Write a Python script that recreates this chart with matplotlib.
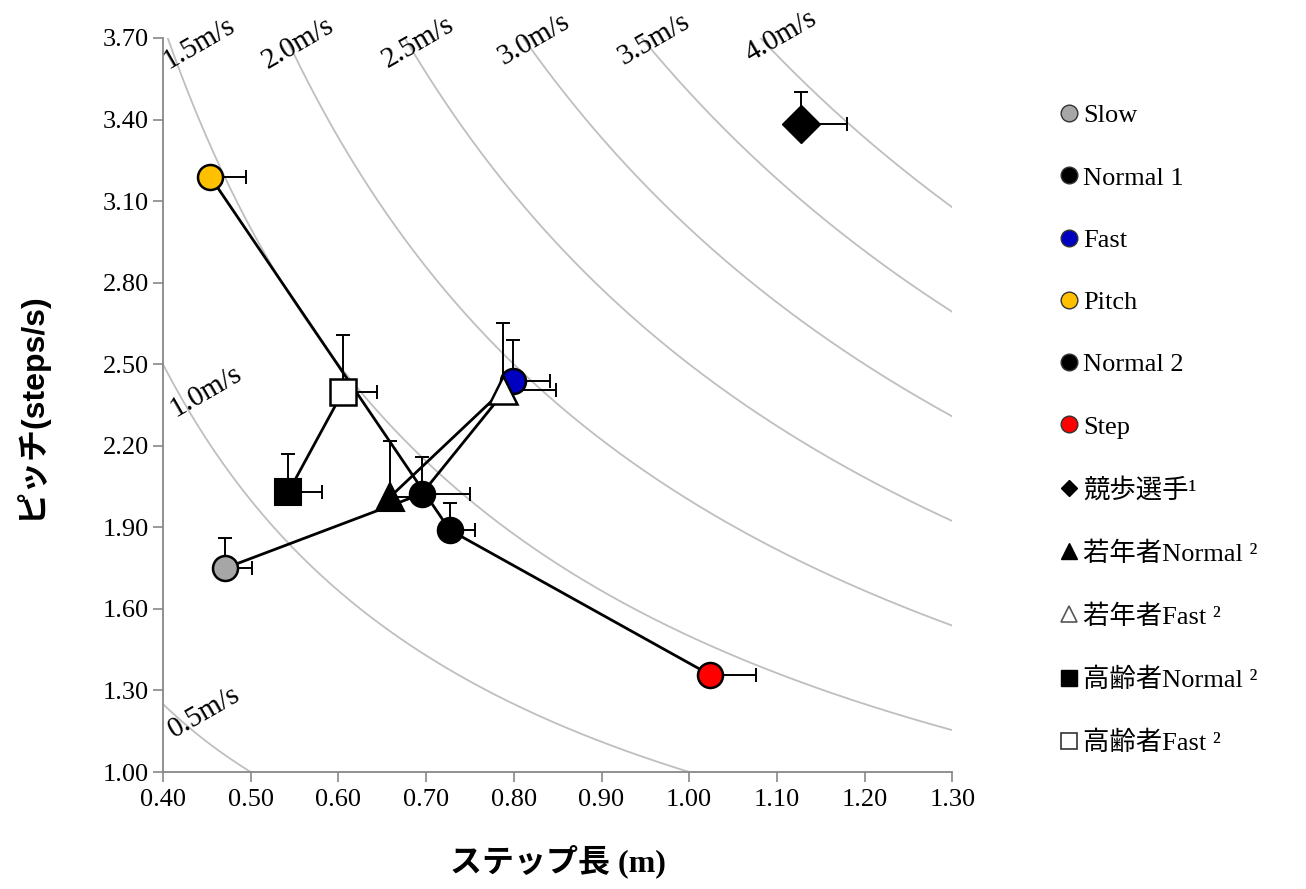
import numpy as np
import matplotlib
matplotlib.use("Agg")
import matplotlib.pyplot as plt
from matplotlib.lines import Line2D

plt.rcParams['font.family'] = ['Liberation Serif', 'Noto Sans CJK JP']

# iso-speed curves (m/s): pitch = speed / step length
speeds = [0.5, 1.0, 1.5, 2.0, 2.5, 3.0, 3.5, 4.0]
speed_labels = ['0.5m/s', '1.0m/s', '1.5m/s', '2.0m/s', '2.5m/s', '3.0m/s', '3.5m/s', '4.0m/s']
label_x = [0.412, 0.414, 0.406, 0.519, 0.656, 0.788, 0.925, 1.070]
label_y = [1.125, 2.306, 3.585, 3.585, 3.590, 3.600, 3.600, 3.610]

# walking conditions (circles)
conditions = ['Slow', 'Normal 1', 'Fast', 'Pitch', 'Normal 2', 'Step']
cond_colors = ['#A6A6A6', '#000000', '#0000C0', '#FFC000', '#000000', '#FF0000']
step_len = [0.471, 0.695, 0.799, 0.454, 0.727, 1.024]
pitch = [1.750, 2.023, 2.438, 3.189, 1.890, 1.357]
step_err = [0.031, 0.055, 0.042, 0.041, 0.029, 0.052]
pitch_err = [0.110, 0.136, 0.151, 0.030, 0.100, 0.030]

# race walker
rw_step, rw_pitch = 1.128, 3.384
rw_step_err, rw_pitch_err = 0.052, 0.118

# young (Normal, Fast)
young_step = [0.659, 0.788]
young_pitch = [2.012, 2.405]
young_step_err = [0.040, 0.060]
young_pitch_err = [0.206, 0.247]

# elderly (Normal, Fast)
old_step = [0.543, 0.605]
old_pitch = [2.030, 2.398]
old_step_err = [0.038, 0.039]
old_pitch_err = [0.140, 0.209]

fig = plt.figure(figsize=(13.06, 8.89), dpi=100)
ax = fig.add_axes([0.1248, 0.1316, 0.6044, 0.8257])

# speed curves
xs = np.linspace(0.40, 1.30, 400)
for v in speeds:
    ax.plot(xs, v / xs, color='#BFBFBF', lw=1.3, zorder=1)
for txt, lx, ly in zip(speed_labels, label_x, label_y):
    ax.text(lx, ly, txt, fontsize=21, rotation=30, rotation_mode='anchor',
            ha='left', va='baseline', clip_on=False, zorder=2)

# connecting lines
ax.plot(step_len[0:3], pitch[0:3], color='black', lw=2, zorder=3)
ax.plot(step_len[3:6], pitch[3:6], color='black', lw=2, zorder=3)
ax.plot(young_step, young_pitch, color='black', lw=2, zorder=3)
ax.plot(old_step, old_pitch, color='black', lw=2, zorder=3)


def plus_err(x, y, xe, ye):
    x = np.atleast_1d(x)
    y = np.atleast_1d(y)
    xe = np.atleast_1d(xe)
    ye = np.atleast_1d(ye)
    ax.errorbar(x, y, xerr=[np.zeros_like(xe), xe], yerr=[np.zeros_like(ye), ye],
                fmt='none', ecolor='black', elinewidth=1.4, capsize=5,
                capthick=1.4, zorder=4)


plus_err(step_len, pitch, step_err, pitch_err)
plus_err(rw_step, rw_pitch, rw_step_err, rw_pitch_err)
plus_err(young_step, young_pitch, young_step_err, young_pitch_err)
plus_err(old_step, old_pitch, old_step_err, old_pitch_err)

# markers
for x, y, c in zip(step_len, pitch, cond_colors):
    ax.plot(x, y, marker='o', ms=18, mfc=c, mec='black', mew=1.8,
            linestyle='none', zorder=5)
ax.plot(rw_step, rw_pitch, marker='D', ms=19, mfc='black', mec='black',
        linestyle='none', zorder=5)
ax.plot(young_step[0], young_pitch[0], marker='^', ms=20, mfc='black',
        mec='black', mew=1.5, linestyle='none', zorder=5)
ax.plot(young_step[1], young_pitch[1], marker='^', ms=20, mfc='white',
        mec='black', mew=1.8, linestyle='none', zorder=5)
ax.plot(old_step[0], old_pitch[0], marker='s', ms=19, mfc='black',
        mec='black', mew=1.5, linestyle='none', zorder=5)
ax.plot(old_step[1], old_pitch[1], marker='s', ms=19, mfc='white',
        mec='black', mew=1.8, linestyle='none', zorder=5)

ax.set_xlim(0.40, 1.30)
ax.set_ylim(1.00, 3.70)
ax.set_xticks(np.arange(0.40, 1.301, 0.10))
ax.set_yticks(np.arange(1.00, 3.701, 0.30))
ax.xaxis.set_major_formatter(matplotlib.ticker.FormatStrFormatter('%.2f'))
ax.yaxis.set_major_formatter(matplotlib.ticker.FormatStrFormatter('%.2f'))
ax.tick_params(labelsize=19, length=7, width=1.2, color='#888888')
ax.tick_params(axis='y', pad=3)
ax.tick_params(axis='x', pad=5)
for side in ['top', 'right']:
    ax.spines[side].set_visible(False)
for side in ['left', 'bottom']:
    ax.spines[side].set_color('#888888')
    ax.spines[side].set_linewidth(1.3)

ax.set_xlabel('ステップ長 (m)', fontsize=23, fontweight='bold', labelpad=24)
ax.set_ylabel('ピッチ(steps/s)', fontsize=23, fontweight='bold', labelpad=40,
              family=['Liberation Sans', 'Noto Sans CJK JP'])

# legend
handles = []
for c in cond_colors:
    handles.append(Line2D([], [], marker='o', ms=12, mfc=c, mec='#333333',
                          mew=1, linestyle='none'))
handles.append(Line2D([], [], marker='D', ms=8, mfc='black', mec='black', linestyle='none'))
handles.append(Line2D([], [], marker='^', ms=12, mfc='black', mec='black', linestyle='none'))
handles.append(Line2D([], [], marker='^', ms=12, mfc='white', mec='#555555', mew=1.2, linestyle='none'))
handles.append(Line2D([], [], marker='s', ms=11, mfc='black', mec='black', linestyle='none'))
handles.append(Line2D([], [], marker='s', ms=11, mfc='white', mec='#333333', mew=1.2, linestyle='none'))
labels = conditions + ['競歩選手¹', '若年者Normal ²', '若年者Fast ²',
                       '高齢者Normal ²', '高齢者Fast ²']
fig.legend(handles, labels, loc='upper left', bbox_to_anchor=(0.801, 0.898),
           frameon=False, fontsize=19, labelspacing=1.47, handlelength=0.7,
           handletextpad=0.2, borderpad=0)

fig.savefig('out.png', dpi=100)
